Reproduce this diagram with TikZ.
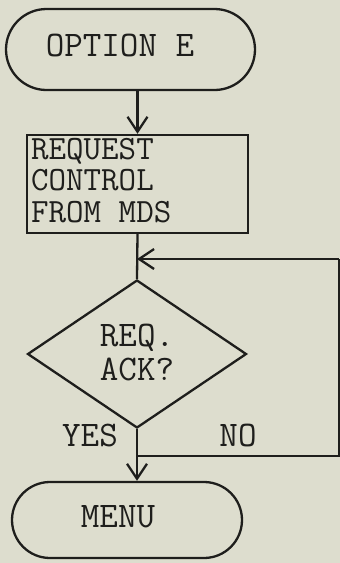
\documentclass[tikz,border=0pt]{standalone}
\usepackage{fontspec}
\usetikzlibrary{shapes.misc,shapes.geometric,arrows.meta}
\definecolor{paper}{RGB}{221,221,206}
\definecolor{ink}{RGB}{30,30,28}
\tikzset{
  flow/.style={draw=ink, line width=2.3pt},
  tag/.style={text=ink, font=\ttfamily\fontsize{36}{27}\selectfont, inner sep=0pt},
  boxline/.style={tag, anchor=base west, font=\ttfamily\fontsize{34}{27}\selectfont},
  terminal/.style={flow, rounded rectangle, inner sep=0pt},
  process/.style={flow, rectangle, inner sep=0pt},
  decision/.style={flow, diamond, inner sep=0pt},
  link/.style={flow, -{Straight Barb[length=15pt,width=20pt,line width=2.3pt]}},
}
\begin{document}
\begin{tikzpicture}[x=1pt,y=-1pt]
  \fill[paper] (0,0) rectangle (340,563);
  \useasboundingbox (0,0) rectangle (340,563);

  % start terminal
  \node[terminal, minimum width=249pt, minimum height=81pt] (start) at (130.5,49.5) {};
  \node[tag] (starttext) at (120,45) {OPTION E};

  % request box, one node per typed line
  \node[process, minimum width=221pt, minimum height=98pt] (req) at (137.5,184) {};
  \node[boxline] (reqline1) at (31,159) {REQUEST};
  \node[boxline] (reqline2) at (31,190) {CONTROL};
  \node[boxline] (reqline3) at (31,222) {FROM MDS};

  % decision
  \node[decision, minimum width=219pt, minimum height=148pt] (ack) at (137,354) {};
  \node[tag, align=center, font=\ttfamily\fontsize{36}{34}\selectfont] (acktext) at (137,352) {REQ.\\ACK?};

  % end terminal
  \node[terminal, minimum width=230pt, minimum height=76pt] (menu) at (127,520) {};
  \node[tag] (menutext) at (118,517) {MENU};

  % branch labels
  \node[tag] (yes) at (90,435) {YES};
  \node[tag] (no) at (238,435) {NO};

  % connector points
  \coordinate (entry) at (137,259);
  \coordinate (nojoin) at (137,456);
  \coordinate (nobottom) at (339,456);
  \coordinate (notop) at (339,259);

  % connectors
  \draw[link] (start.south -| req.north) -- (req.north);
  \draw[flow] (req.south) -- (ack.north);
  \draw[link] (ack.south) -- (ack.south |- menu.north);
  \draw[flow] (nojoin) -- (nobottom) -- (notop);
  \draw[link] (notop) -- (entry);
\end{tikzpicture}
\end{document}
